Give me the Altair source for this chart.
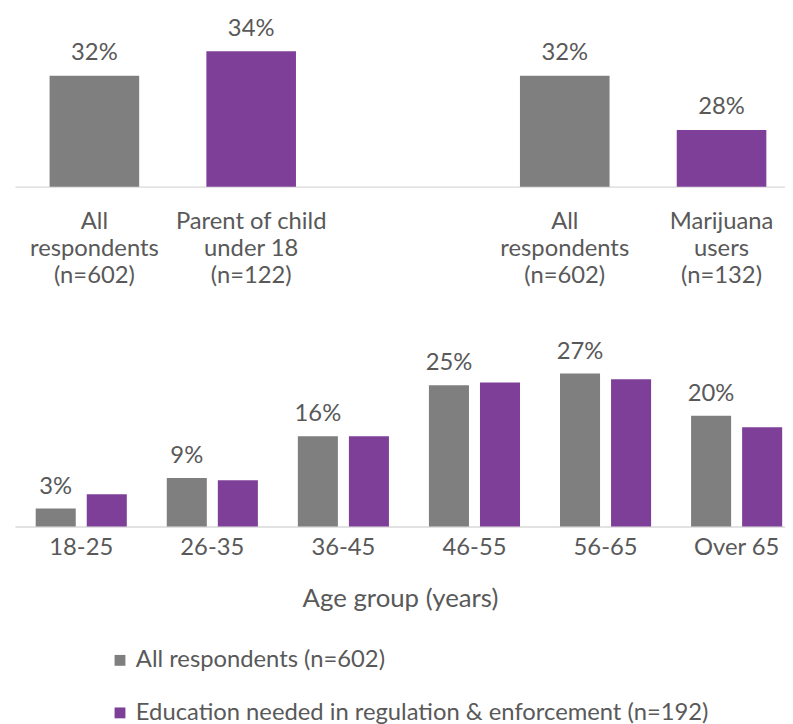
import altair as alt
import pandas as pd

FONT = "Lato"
TXT = "#595959"
GRAY = "#7F7F7F"
PURPLE = "#7E3F98"
AXIS_LINE = "#D9D9D9"

series_names = [
    "All respondents (n=602)",
    "Education needed in regulation & enforcement (n=192)",
]

# Top panel: categories (| = line break), gap slot in the middle
top_domain = [
    "All|respondents|(n=602)",
    "Parent of child|under 18|(n=122)",
    " ",
    "All|respondents |(n=602)",
    "Marijuana|users|(n=132)",
]
top_groups = [top_domain[0], top_domain[1], top_domain[3], top_domain[4]]
top_values = [32.0, 33.9, 32.0, 27.8]
top_series = [series_names[0], series_names[1], series_names[0], series_names[1]]
TOP_MIN = 23.4
TOP_MAX = 36.17

# Bottom panel: age groups
ages = ["18-25", "26-35", "36-45", "46-55", "56-65", "Over 65"]
all_vals = [3.2, 8.6, 16.0, 25.0, 27.1, 19.6]
edu_vals = [5.7, 8.2, 16.0, 25.5, 26.1, 17.6]

top_df = pd.DataFrame({"group": top_groups, "value": top_values, "series": top_series})
bot_df = pd.DataFrame({
    "age": ages + ages,
    "series": [series_names[0]] * len(ages) + [series_names[1]] * len(ages),
    "value": all_vals + edu_vals,
})

color_scale = alt.Scale(domain=series_names, range=[GRAY, PURPLE])

# ---------- top chart ----------
tx = alt.X(
    "group:N",
    scale=alt.Scale(domain=top_domain, paddingInner=0.4286, paddingOuter=0.17, align=0.65),
    axis=alt.Axis(
        title=None, labelExpr="split(datum.label, '|')", labelAngle=0, ticks=False,
        domainColor=AXIS_LINE, domainWidth=1.5, labelFont=FONT, labelFontSize=24,
        labelColor=TXT, labelPadding=23, labelLineHeight=27.5, labelLimit=0,
    ),
)
ty = alt.Y("value:Q", scale=alt.Scale(domain=[TOP_MIN, TOP_MAX], zero=False, nice=False), axis=None)

top_bars = alt.Chart(top_df).mark_bar().encode(
    x=tx, y=ty, y2=alt.datum(TOP_MIN),
    color=alt.Color("series:N", scale=color_scale, legend=None),
)
top_text = alt.Chart(top_df).transform_calculate(
    label="format(datum.value, '.0f') + '%'"
).mark_text(dy=-16, baseline="alphabetic", font=FONT, fontSize=24, color=TXT).encode(
    x=tx, y=ty, text="label:N"
)
top_chart = alt.layer(top_bars, top_text).properties(width=777, height=166)

# ---------- bottom chart ----------
bx = alt.X(
    "age:N", sort=ages,
    scale=alt.Scale(domain=ages, paddingInner=0.305, paddingOuter=0.09, align=0.88),
    axis=alt.Axis(
        title="Age group (years)", labelAngle=0, ticks=False, domainColor=AXIS_LINE,
        domainWidth=1.5, labelFont=FONT, labelFontSize=24, labelColor=TXT, labelPadding=9,
        titleFont=FONT, titleFontSize=26, titleFontWeight="normal", titleColor=TXT,
        titlePadding=27,
    ),
)
bxo = alt.XOffset("series:N", scale=alt.Scale(domain=series_names, paddingInner=0.2157, paddingOuter=0))
by = alt.Y("value:Q", scale=alt.Scale(domain=[0, 30], nice=False), axis=None)

bot_bars = alt.Chart(bot_df).mark_bar().encode(
    x=bx, xOffset=bxo, y=by,
    color=alt.Color(
        "series:N", scale=color_scale,
        legend=alt.Legend(
            title=None, orient="none", legendX=94, legendY=294, direction="vertical",
            symbolType="square", symbolSize=120, symbolStrokeWidth=0,
            labelFont=FONT, labelFontSize=24, labelColor=TXT, labelOffset=4,
            rowPadding=29, labelLimit=0,
        ),
    ),
)
bot_text = alt.Chart(bot_df).transform_filter(
    alt.datum.series == series_names[0]
).transform_calculate(
    label="format(datum.value, '.0f') + '%'"
).mark_text(dy=-15, baseline="alphabetic", font=FONT, fontSize=24, color=TXT).encode(
    x=bx, xOffset=bxo, y=by, text="label:N"
)
bot_chart = alt.layer(bot_bars, bot_text).properties(width=777, height=171)

chart = alt.vconcat(top_chart, bot_chart, spacing=172, bounds="flush").resolve_scale(
    color="independent"
).properties(
    padding={"left": 7, "top": 5, "right": 0, "bottom": 0},
    background="white",
).configure_view(stroke=None)

chart.save("out.html", embed_options={"renderer": "svg", "actions": False})
